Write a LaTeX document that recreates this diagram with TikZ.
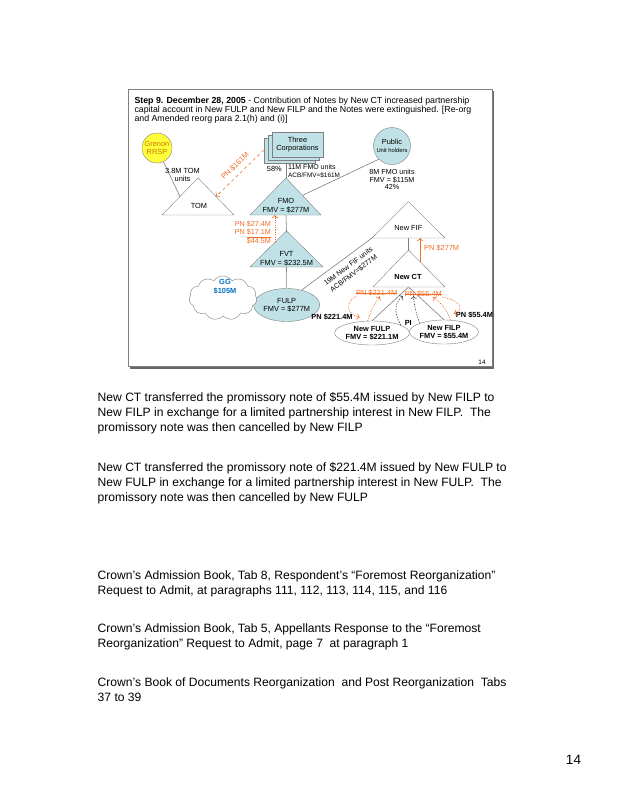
\documentclass[tikz,border=0pt]{standalone}
\usepackage{fontspec}
\setmainfont{Liberation Sans}
\usetikzlibrary{arrows.meta,shapes.geometric,shapes.symbols,shadows,positioning,calc,backgrounds}

\definecolor{linegray}{RGB}{128,128,128}
\definecolor{tealfill}{RGB}{192,226,230}
\definecolor{pnorange}{RGB}{240,110,40}
\definecolor{ggblue}{RGB}{0,112,192}
\definecolor{rrspyellow}{RGB}{255,255,60}
\definecolor{rrsptext}{RGB}{200,120,0}

\begin{document}
\begin{tikzpicture}[x=1pt,y=-1pt,
    lbl/.style={font=\fontsize{7.4}{8.5}\selectfont,inner sep=0pt,align=center},
    lblbold/.style={lbl,font=\fontsize{7.4}{8.5}\selectfont\bfseries},
    lbltiny/.style={lbl,font=\fontsize{6.4}{7}\selectfont},
    tri/.style={draw=linegray,fill=tealfill,line join=round},
    ent/.style={draw=linegray,fill=tealfill,lbl},
    link/.style={draw=linegray,line width=0.6pt},
    pn/.style={pnorange,line width=0.6pt,->},
    pndot/.style={pn,dash pattern=on 1.2pt off 1.2pt},
    pitrans/.style={black!70,line width=0.6pt,->,dash pattern=on 1.5pt off 1.2pt},
    body/.style={font=\fontsize{12.1}{14.8}\selectfont,anchor=north west,inner sep=0pt,align=left}]

\useasboundingbox (0,0) rectangle (623,807);

% slide frame
\begin{scope}[on background layer]
  \fill[white] (0,0) rectangle (623,807);
  \draw[black!60,line width=1.2pt] (130,368) -- (493.5,368) -- (493.5,91);
  \draw[linegray,fill=white] (128.5,88.7) rectangle (492,366.5);
\end{scope}

\node[anchor=north west,inner sep=0pt,align=left,font=\fontsize{8.8}{8.8}\selectfont] (title) at (134.3,97.3)
  {\textbf{Step 9. December 28, 2005} - Contribution of Notes by New CT increased partnership\\
   capital account in New FULP and New FILP and the Notes were extinguished. [Re-org\\
   and Amended reorg para 2.1(h) and (i)]};

% top row
\node[circle,draw=linegray,fill=rrspyellow,minimum size=30pt,lbl,text=rrsptext] (grenon) at (157,148) {Grenon\\RRSP};
\node[ent,rectangle,minimum width=51pt,minimum height=25pt,
      double copy shadow={shadow xshift=-4pt,shadow yshift=-3pt}] (corps) at (297.5,144.5) {Three\\Corporations};
\node[ent,circle,minimum size=37pt] (public) at (392,146) {Public\\{\fontsize{5.8}{6.5}\selectfont Unit holders}};

% triangles
\draw[tri,fill=white] (162,215) coordinate (tom-l) -- (198,178) coordinate (tom-a) -- (234,215) coordinate (tom-r) -- cycle;
\node[lbl] (tom) at (199,206) {TOM};

\draw[tri] (250,215) coordinate (fmo-l) -- (286,178) coordinate (fmo-a) -- (321,215) coordinate (fmo-r) -- cycle;
\coordinate (fmo-b) at (286,215);
\node[lbl] (fmo) at (286,205.8) {FMO\\FMV = \$277M};

\draw[tri] (250,267) coordinate (fvt-l) -- (286.5,231) coordinate (fvt-a) -- (323,267) coordinate (fvt-r) -- cycle;
\coordinate (fvt-b) at (286.5,267);
\node[lbl] (fvt) at (286.5,258.5) {FVT\\FMV = \$232.5M};

\draw[tri,fill=white] (372,238) coordinate (nfif-l) -- (408.5,201.7) coordinate (nfif-a) -- (445,238) coordinate (nfif-r) -- cycle;
\coordinate (nfif-b) at (408.5,238);
\node[lbl] (nfif) at (408.3,228.3) {New FIF};

\draw[tri,fill=white] (373,287) coordinate (nct-l) -- (408.5,250) coordinate (nct-a) -- (445,287) coordinate (nct-r) -- cycle;
\coordinate (nct-b) at (408.5,287);
\node[lblbold] (nct) at (408,277) {New CT};

% partnerships
\node[ent,ellipse,minimum width=63pt,minimum height=33pt] (fulp) at (286.7,305) {FULP\\FMV = \$277M};
\node[cloud,draw=linegray,fill=white,cloud puffs=11,cloud puff arc=110,aspect=1.6,
      minimum width=68pt,minimum height=44pt,inner sep=0pt] (cloud) at (223,298) {};
\node[lblbold,text=ggblue] (gg) at (225,286.5) {GG\\\$105M};
\node[ellipse,draw=linegray,fill=white,minimum width=63pt,minimum height=24pt,lblbold] (nfulp) at (372,333) {New FULP\\FMV = \$221.1M};
\node[ellipse,draw=linegray,fill=white,minimum width=58pt,minimum height=24pt,lblbold] (nfilp) at (444,332) {New FILP\\FMV = \$55.4M};

% labels
\node[lbl,anchor=north] (tomunits) at (182.5,168) {3.8M TOM\\units};
\node[lbl,anchor=east] (pct58) at (282,169) {58\%};
\node[lbl,anchor=west,font=\fontsize{7}{8}\selectfont] (fmounits) at (288,167) {11M FMO units};
\node[lbltiny,anchor=west] (acb161) at (288,175) {ACB/FMV=\$161M};
\node[lbl,font=\fontsize{7.2}{7.7}\selectfont] (pubunits) at (392,179.5) {8M FMO units\\FMV = \$115M\\42\%};
\node[lbl,text=pnorange,rotate=44] (pn161) at (235,166) {PN \$161M};
\node[lbl,anchor=east,align=right,text=pnorange,font=\fontsize{7.2}{8.3}\selectfont] (pn445) at (271,232.4)
  {PN \$27.4M\\PN \underline{\$17.1M}\\\$44.5M};
\node[lbl,rotate=37,font=\fontsize{7}{9}\selectfont] (fifunits) at (351,270) {19M New FIF units\\ACB/FMV=\$277M};
\node[lblbold] (pnfulp) at (332,317.3) {PN \$221.4M};
\node[lblbold] (pnfilp) at (474.5,315) {PN \$55.4M};
\node[lbl,anchor=west,text=pnorange] (pn277) at (424,248) {PN \$277M};
\node[lbl,text=pnorange] (pnstrike1) at (376.7,293.3) {PN \$221.4M};
\node[lbl,text=pnorange] (pnstrike2) at (423.3,294) {PN \$55.4M};
\node[lblbold] (pi) at (408.3,323.3) {PI};
\node[lbltiny] (slideno) at (482,362) {14};

% struck-out notes
\draw[pnorange,line width=0.5pt] (pnstrike1.west) -- (pnstrike1.east);
\draw[pnorange,line width=0.5pt] (pnstrike2.west) -- (pnstrike2.east);

% connectors
\coordinate (fvt-pn) at ($(fvt-l)!0.68!(fvt-a)$);
\coordinate (nct-pn) at ($(nct-a)!0.32!(nct-r)$);
\coordinate (pi-l) at (403,296);
\coordinate (pi-r) at (413.5,296);
\begin{scope}[on background layer]
  \draw[link] (grenon.-65) -- ($(tom-l)!0.5!(tom-a)$);
  \draw[link] (corps.south -| fmo-a) -- (fmo-a);
  \draw[link] (public.-135) -- ($(fmo-a)!0.47!(fmo-r)$);
  \draw[link] (fmo-b) -- (fvt-a);
  \draw[link] (fvt-b) -- (fulp.north);
  \draw[link] (fulp.45) -- (nfif-l);
  \draw[link] (nfif-b) -- (nct-a);
  \draw[link] (nct-b) -- (nfulp.north);
  \draw[link] (nct-b) -- (nfilp.north);
\end{scope}
\draw[pn,dashed] ($(corps.west)+(-8,5.5)$) -- ($(tom-a)!0.5!(tom-r)$);
\draw[pndot] (fvt-pn) -- (fvt-pn |- fmo-b);
\draw[pn] (nct-pn) -- (nct-pn |- nfif-b);
\draw[pitrans] (nfulp.15) .. controls (393,312) and (395,302) .. (pi-l);
\draw[pitrans] (nfilp.160) .. controls (416,314) and (414,304) .. (pi-r);
\draw[pndot] (pnstrike1.south west) .. controls (345,302) and (346,314) .. ($(pnfulp.east)+(7,0)$);
\draw[pndot] (nfulp.110) .. controls (372,308) .. ($(pnstrike1.south)+(3,0)$);
\draw[pndot] (pnstrike2.south east) .. controls (462,300) and (464,311) .. ($(pnfilp.west)+(-2,-1.5)$);
\draw[pndot] (nfilp.60) .. controls (444,306) .. ($(pnstrike2.south)+(10,0)$);

% page text
\node[body] (para1) at (97.5,392.3) {New CT transferred the promissory note of \$55.4M issued by New FILP to\\
  New FILP in exchange for a limited partnership interest in New FILP.\ \ The\\
  promissory note was then cancelled by New FILP};
\node[body] (para2) at (97.5,462.3) {New CT transferred the promissory note of \$221.4M issued by New FULP to\\
  New FULP in exchange for a limited partnership interest in New FULP.\ \ The\\
  promissory note was then cancelled by New FULP};
\node[body] (para3) at (97.5,570.6) {Crown's Admission Book, Tab 8, Respondent's ``Foremost Reorganization''\\
  Request to Admit, at paragraphs 111, 112, 113, 114, 115, and 116};
\node[body] (para4) at (97.5,624) {Crown's Admission Book, Tab 5, Appellants Response to the ``Foremost\\
  Reorganization'' Request to Admit, page 7\ \ at paragraph 1};
\node[body] (para5) at (97.5,677.3) {Crown's Book of Documents Reorganization\ \ and Post Reorganization\ \ Tabs\\
  37 to 39};
\node[inner sep=0pt,font=\fontsize{13.5}{16}\selectfont] (pageno) at (573.5,760) {14};
\end{tikzpicture}
\end{document}
